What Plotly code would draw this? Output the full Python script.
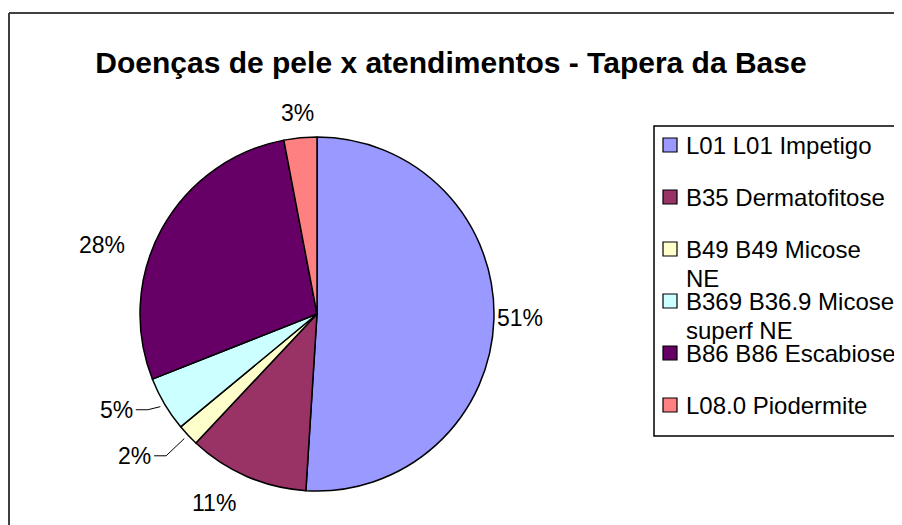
import math
import plotly.graph_objects as go

# ---- data ----
categories = ["L01 L01 Impetigo", "B35 Dermatofitose", "B49 B49 Micose NE",
              "B369 B36.9 Micose superf NE", "B86 B86 Escabiose", "L08.0 Piodermite"]
legend_text = ["L01 L01 Impetigo", "B35 Dermatofitose", "B49 B49 Micose<br>NE",
               "B369 B36.9 Micose<br>superf NE", "B86 B86 Escabiose", "L08.0 Piodermite"]
values = [51, 11, 2, 5, 28, 3]
colors = ["#9999FF", "#993366", "#FFFFCC", "#CCFFFF", "#660066", "#FF8080"]
title = "Doenças de pele x atendimentos - Tapera da Base"

# ---- layout (window pixels; page body has an 8px margin) ----
OFF = 8
W, H = 902 - OFF, 525 - OFF
FONT = "Arial, Liberation Sans, Helvetica, sans-serif"
LABEL_SIZE = 23
label_nudge = [(-3, -2), (-21, 11), (-37, 9), (-29, -3), (-34, 24), (-1, -8)]
label_leader = [False, False, True, True, False, False]


def px(x):
    return (x - OFF) / W


def py(y):
    return 1 - (y - OFF) / H


cx, cy, r = 317, 314, 177

fig = go.Figure(go.Pie(
    labels=categories,
    values=values,
    sort=False,
    direction="clockwise",
    rotation=0,
    marker=dict(colors=colors, line=dict(color="#000000", width=1.5)),
    textinfo="none",
    showlegend=False,
    hoverinfo="label+percent",
    domain=dict(x=[px(cx - r), px(cx + r)], y=[py(cy + r), py(cy - r)]),
))

shapes = [
    # chart area border (top and left visible)
    dict(type="line", xref="paper", yref="paper", x0=px(9), x1=px(915), y0=py(13), y1=py(13),
         line=dict(color="#404040", width=2)),
    dict(type="line", xref="paper", yref="paper", x0=px(9), x1=px(9), y0=py(13), y1=py(540),
         line=dict(color="#404040", width=2)),
    # legend box
    dict(type="rect", xref="paper", yref="paper", x0=px(654), x1=px(930), y0=py(126), y1=py(436),
         line=dict(color="#000000", width=1.5), fillcolor="rgba(0,0,0,0)"),
]
annotations = []

# legend entries
y0_item, step, line_h = 145, 52, 29
for i, (txt, col) in enumerate(zip(legend_text, colors)):
    yc = y0_item + i * step
    shapes.append(dict(type="rect", xref="paper", yref="paper",
                       x0=px(663), x1=px(677), y0=py(yc - 7), y1=py(yc + 7),
                       fillcolor=col, line=dict(color="#000000", width=1.2)))
    for j, line in enumerate(txt.split("<br>")):
        annotations.append(dict(text=line, xref="paper", yref="paper",
                                x=px(684), y=py(yc + j * line_h), xanchor="left", yanchor="middle",
                                showarrow=False, font=dict(family=FONT, size=24, color="#000000")))

# percentage labels outside the slices (positions derived from the slice angles)
total = sum(values)
cum = 0
gap = 6
for i, v in enumerate(values):
    frac_mid = (cum + v / 2) / total
    cum += v
    theta = 2 * math.pi * frac_mid
    dx, dy = math.sin(theta), -math.cos(theta)
    txt = f"{round(100 * v / total)}%"
    w = LABEL_SIZE * (0.556 * (len(txt) - 1) + 0.889)
    h = 22
    tx = cx + (r + gap) * dx + dx * w / 2 + label_nudge[i][0]
    ty = cy + (r + gap) * dy + dy * h / 2 + label_nudge[i][1]
    annotations.append(dict(text=txt, xref="paper", yref="paper", x=px(tx), y=py(ty),
                            xanchor="center", yanchor="middle", showarrow=False,
                            font=dict(family=FONT, size=LABEL_SIZE, color="#000000")))
    if label_leader[i]:
        sx = tx + w / 2 + 3
        mx = sx + 12
        ex, ey = cx + (r + 5) * dx, cy + (r + 5) * dy
        shapes.append(dict(type="path", xref="paper", yref="paper",
                           path=f"M {px(sx)} {py(ty)} L {px(mx)} {py(ty)} L {px(ex)} {py(ey)}",
                           line=dict(color="#000000", width=1)))

fig.update_layout(
    width=W, height=H,
    margin=dict(l=0, r=0, t=0, b=0),
    paper_bgcolor="#FFFFFF",
    plot_bgcolor="#FFFFFF",
    title=dict(text="<b>" + title + "</b>", x=px(451), xanchor="center", y=py(62), yanchor="middle",
               font=dict(family=FONT, size=30, color="#000000")),
    shapes=shapes,
    annotations=annotations,
)

fig.write_html("out.html")
